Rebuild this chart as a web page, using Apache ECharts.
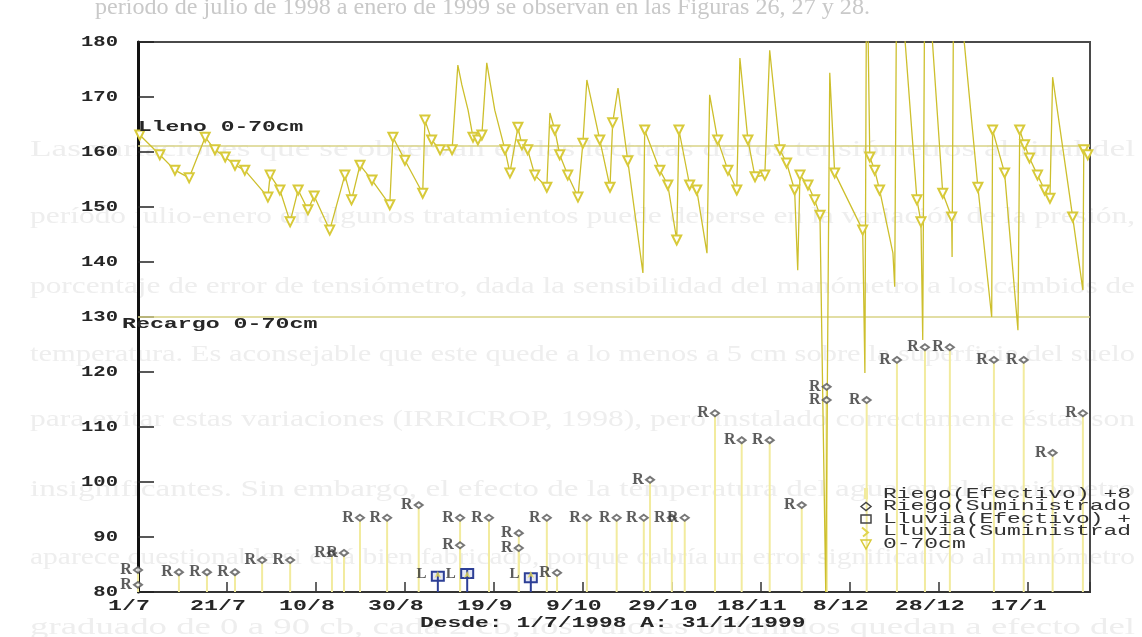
<!DOCTYPE html>
<html>
<head>
<meta charset="utf-8">
<script src="https://cdn.jsdelivr.net/npm/echarts@6/dist/echarts.min.js"></script>
<style>
  html, body { margin: 0; padding: 0; background: #ffffff; }
  #chart { width: 1142px; height: 637px; }
</style>
</head>
<body>
<div id="chart"></div>
<script>
// Time axis: days counted from 1 July 1998 (day 214 = 31 January 1999)
const xTickDays = [0, 20, 40, 60, 80, 100, 120, 140, 160, 180, 200];
const xTickLabels = ['1/7', '21/7', '10/8', '30/8', '19/9', '9/10', '29/10', '18/11', '8/12', '28/12', '17/1'];
const yTicks = [80, 90, 100, 110, 120, 130, 140, 150, 160, 170, 180];

// Tensiometer reading, 0-70 cm layer
const tensionDays = [
  0.4, 4.9, 8.3, 11.5, 15.1, 17.3, 19.6, 21.8, 24.0, 29.2,
  29.7, 31.9, 34.2, 36.0, 38.2, 39.6, 43.1, 46.5, 48.0, 49.9,
  52.6, 56.6, 57.3, 60.0, 64.0, 64.5, 66.0, 67.9, 70.6, 71.9,
  72.8, 74.2, 75.3, 76.4, 77.3, 78.4, 80.2, 82.5, 83.6, 85.4,
  86.3, 87.6, 89.2, 91.9, 92.6, 93.7, 94.8, 96.6, 98.9, 100.0,
  100.9, 103.8, 106.1, 106.7, 107.9, 110.1, 113.5, 113.9, 117.3, 119.1,
  121.1, 121.6, 124.0, 125.6, 127.9, 128.5, 130.3, 132.6, 134.6, 135.3,
  137.1, 138.7, 140.9, 142.0, 144.3, 145.8, 147.6, 148.3, 148.8, 150.6,
  152.1, 153.3, 154.6, 155.5, 156.6, 162.9, 163.4, 163.8, 164.5, 165.6,
  166.7, 169.7, 170.1, 170.6, 175.1, 176.0, 176.4, 176.9, 180.9, 182.9,
  183.0, 183.4, 188.8, 191.9, 192.1, 194.8, 197.8, 198.2, 199.3, 200.4,
  202.2, 203.8, 205.0, 205.6, 210.1, 212.4, 212.6, 213.5
];
const tensionVals = [
  163.1, 159.5, 156.7, 155.3, 162.7, 160.4, 159.1, 157.6, 156.7, 151.8,
  155.8, 153.1, 147.3, 153.1, 149.5, 152.0, 145.8, 155.8, 151.3, 157.6,
  154.9, 150.4, 162.7, 158.5, 152.5, 165.8, 162.2, 160.4, 160.4, 175.8,
  172.2, 167.6, 162.7, 162.2, 163.1, 176.2, 167.6, 160.4, 156.2, 164.5,
  161.3, 160.4, 155.8, 153.6, 167.1, 164.0, 159.5, 155.8, 151.8, 161.6,
  173.1, 162.2, 153.6, 165.3, 171.6, 158.4, 138.0, 164.0, 156.7, 154.0,
  144.0, 164.0, 154.0, 153.1, 141.6, 170.4, 162.2, 156.7, 153.1, 177.1,
  162.2, 155.5, 155.8, 178.5, 160.4, 158.0, 153.1, 138.5, 155.8, 154.0,
  151.3, 148.5, 80.0, 174.4, 156.2, 145.8, 119.8, 200.0, 159.1, 156.7,
  153.1, 141.6, 135.5, 200.0, 151.3, 147.3, 125.8, 200.0, 152.5, 148.2,
  140.9, 200.0, 153.6, 130.0, 164.0, 156.2, 127.6, 164.0, 161.3, 158.9,
  155.8, 153.1, 151.6, 173.6, 148.2, 134.9, 160.4, 159.5
];

// Irrigation events (supplied depth plotted on the same scale)
const riegoDays = [
  0, 0, 9.2, 15.5, 21.8, 27.9, 34.2, 43.6, 46.3, 49.9,
  56.0, 63.1, 72.4, 72.4, 78.9, 85.6, 85.6, 91.9, 94.2, 100.9,
  107.6, 113.7, 115.1, 120.0, 122.9, 129.7, 135.7, 142.0, 149.2, 154.8,
  154.8, 163.8, 170.6, 176.9, 182.5, 192.4, 199.1, 205.6, 212.4
];
const riegoVals = [
  84.0, 81.3, 83.6, 83.6, 83.6, 85.8, 85.8, 87.1, 87.1, 93.5,
  93.5, 95.8, 93.5, 88.5, 93.5, 90.7, 88.0, 93.5, 83.5, 93.5,
  93.5, 93.5, 100.4, 93.5, 93.5, 112.5, 107.6, 107.6, 95.8, 117.3,
  114.9, 114.9, 122.2, 124.5, 124.5, 122.2, 122.2, 105.3, 112.5
];

// Rain events
const lluviaDays = [67.4, 74.0, 88.3];
const lluviaSumVals = [83.8, 83.8, 83.8];
const lluviaEfVals = [82.6, 83.1, 82.3];

// Reference levels
const llenoLevel = 161.1;
const recargoLevel = 130.0;

const legendLabels = ['Riego(Efectivo) +8', 'Riego(Suministrado', 'Lluvia(Efectivo) +', 'Lluvia(Suministrad', '0-70cm'];
const rangeLabel = 'Desde: 1/7/1998 A: 31/1/1999';

// Paragraph of the page the figure sits on
const pageLines = [
  'período de julio de 1998 a enero de 1999 se observan en las Figuras 26, 27 y 28.',
  'Las variaciones que se observan en las lecturas de los tensiómetros al final del',
  'período julio-enero en algunos tratamientos puede deberse en la variación de la presión,',
  'porcentaje de error de tensiómetro, dada la sensibilidad del manómetro a los cambios de',
  'temperatura. Es aconsejable que este quede a lo menos a 5 cm sobre la superficie del suelo',
  'para evitar estas variaciones (IRRICROP, 1998), pero instalado correctamente éstas son',
  'insignificantes. Sin embargo, el efecto de la temperatura del agua en el tensiómetro',
  'aparece cuestionable si está bien fabricado, porque cabría un error significativo al manómetro',
  'graduado de 0 a 90 cb, cada 2 cb, los valores obtenidos quedan a efecto del'
];
const pageLineY = [8, 150, 217, 287, 355, 420, 490, 558, 628];

const YELLOW = '#cdbf2c';
const MARK = '#d8ca3a';
const PALE = '#f2eb9e';
const LEVEL = '#d9d386';
const BLUE = '#2d3f96';
const INK = '#262626';

const chart = echarts.init(document.getElementById('chart'), null, { renderer: 'canvas' });

const tensionData = tensionDays.map((d, i) => {
  const v = tensionVals[i];
  const marked = v >= 143 && v <= 166;
  return marked ? [d, v] : { value: [d, v], symbol: 'none' };
});

const option = {
  animation: false,
  backgroundColor: '#ffffff',
  grid: {
    left: 138, right: 52, top: 42, bottom: 45,
    show: true, borderColor: '#4a4a4a', borderWidth: 2, backgroundColor: 'transparent'
  },
  xAxis: {
    type: 'value', min: 0, max: 214, interval: 20,
    axisLine: { show: true, lineStyle: { color: '#333', width: 2 } },
    axisTick: { show: true, inside: true, length: 10, lineStyle: { color: '#333', width: 1.5 } },
    axisLabel: { show: false },
    splitLine: { show: false }
  },
  yAxis: {
    type: 'value', min: 80, max: 180, interval: 10,
    axisLine: { show: true, onZero: false, lineStyle: { color: '#111', width: 3 } },
    axisTick: { show: true, inside: true, length: 16, lineStyle: { color: '#222', width: 1.5 } },
    axisLabel: { show: false },
    splitLine: { show: false }
  },
  series: [
    {
      name: 'Riego(Efectivo)',
      type: 'custom',
      z: 1,
      silent: true,
      encode: { x: 0, y: 1 },
      data: riegoDays.map((d, i) => [d, riegoVals[i]]),
      renderItem: (params, api) => {
        const d = api.value(0), v = api.value(1);
        const a = api.coord([d, 80]), b = api.coord([d, v]);
        return {
          type: 'line',
          shape: { x1: a[0], y1: a[1], x2: b[0], y2: b[1] + 3 },
          style: { stroke: PALE, lineWidth: 2 }
        };
      }
    },
    {
      name: 'Lleno',
      type: 'line',
      z: 2,
      silent: true,
      symbol: 'none',
      lineStyle: { color: LEVEL, width: 1.5 },
      data: [[0, llenoLevel], [214, llenoLevel]]
    },
    {
      name: 'Recargo',
      type: 'line',
      z: 2,
      silent: true,
      symbol: 'none',
      lineStyle: { color: LEVEL, width: 1.5 },
      data: [[0, recargoLevel], [214, recargoLevel]]
    },
    {
      name: '0-70cm',
      type: 'line',
      z: 3,
      silent: true,
      clip: true,
      showSymbol: true,
      showAllSymbol: true,
      symbol: 'emptyTriangle',
      symbolRotate: 180,
      symbolSize: 9,
      itemStyle: { color: MARK, borderWidth: 1.5 },
      lineStyle: { color: YELLOW, width: 1.3 },
      data: tensionData
    },
    {
      name: 'Riego(Suministrado)',
      type: 'scatter',
      z: 4,
      silent: true,
      symbol: 'emptyDiamond',
      symbolSize: [8, 6],
      itemStyle: { color: '#555', borderWidth: 1.2 },
      label: {
        show: true, formatter: 'R', position: 'left', distance: 1,
        fontFamily: 'Liberation Serif', fontWeight: 'bold', fontSize: 16, color: '#333'
      },
      data: riegoDays.map((d, i) => [d, riegoVals[i]])
    },
    {
      name: 'Lluvia(Efectivo)',
      type: 'custom',
      z: 4,
      silent: true,
      encode: { x: 0, y: 1 },
      data: lluviaDays.map((d, i) => [d, lluviaEfVals[i]]),
      renderItem: (params, api) => {
        const d = api.value(0), v = api.value(1);
        const a = api.coord([d, 80]), b = api.coord([d, v]);
        return {
          type: 'group',
          children: [
            { type: 'rect', shape: { x: b[0] - 6, y: b[1] - 6, width: 12, height: 9 },
              style: { fill: 'rgba(80,100,190,0.15)', stroke: BLUE, lineWidth: 2 } },
            { type: 'line', shape: { x1: b[0], y1: b[1] - 6, x2: a[0], y2: a[1] },
              style: { stroke: BLUE, lineWidth: 2 } }
          ]
        };
      }
    },
    {
      name: 'Lluvia(Suministrad)',
      type: 'scatter',
      z: 4,
      silent: true,
      symbol: 'arrow',
      symbolSize: [5, 7],
      itemStyle: { color: '#e3d856' },
      label: {
        show: true, formatter: 'L', position: 'left', distance: 8,
        fontFamily: 'Liberation Serif', fontWeight: 'bold', fontSize: 15, color: '#333'
      },
      data: lluviaDays.map((d, i) => [d, lluviaSumVals[i]])
    }
  ]
};

chart.setOption(option);

// Text drawn with the wide bitmap-style look of the plotter
const px = (x, y) => chart.convertToPixel({ gridIndex: 0 }, [x, y]);
const MONO_B = 'bold 15px "Liberation Mono"';
const MONO = '14px "Liberation Mono"';
const graphics = [];

// faint page paragraph behind the figure
const measure = document.createElement('canvas').getContext('2d');
pageLines.forEach((t, i) => {
  const font = '23px "Liberation Serif"';
  measure.font = font;
  const w = measure.measureText(t).width;
  const first = i === 0;
  const left = first ? 95 : 30;
  const target = first ? 775 : 1105;
  graphics.push({
    type: 'text', x: left, y: pageLineY[i], scaleX: target / w, z: -100, silent: true,
    style: { text: t, font: font, fill: first ? '#c9c9c9' : '#eeeeee', align: 'left', verticalAlign: 'middle' }
  });
});

// y tick labels
yTicks.forEach(v => {
  const p = px(0, v);
  graphics.push({
    type: 'text', x: p[0] - 20, y: p[1], scaleX: 1.37, z: 10, silent: true,
    style: { text: String(v), font: MONO_B, fill: INK, align: 'right', verticalAlign: 'middle' }
  });
});

// x tick labels
xTickDays.forEach((d, i) => {
  const p = px(d, 80);
  graphics.push({
    type: 'text', x: p[0] - 9, y: p[1] + 14, scaleX: 1.55, z: 10, silent: true,
    style: { text: xTickLabels[i], font: MONO_B, fill: INK, align: 'center', verticalAlign: 'middle' }
  });
});

// date range caption
graphics.push({
  type: 'text', x: 420, y: 623, scaleX: 1.53, z: 10, silent: true,
  style: { text: rangeLabel, font: MONO_B, fill: INK, align: 'left', verticalAlign: 'middle' }
});

// level labels
const pl = px(0, llenoLevel);
graphics.push({
  type: 'text', x: pl[0], y: pl[1] - 19, scaleX: 1.53, z: 10, silent: true,
  style: { text: 'Lleno 0-70cm', font: MONO_B, fill: INK, align: 'left', verticalAlign: 'middle' }
});
const pr = px(0, recargoLevel);
graphics.push({
  type: 'text', x: pr[0] - 16, y: pr[1] + 7, scaleX: 1.55, z: 10, silent: true,
  style: { text: 'Recargo 0-70cm', font: MONO_B, fill: INK, align: 'left', verticalAlign: 'middle' }
});

// legend block
const legendY = [494, 506.5, 519, 531.5, 544];
const symX = 866;
legendLabels.forEach((t, i) => {
  graphics.push({
    type: 'text', x: 883, y: legendY[i], scaleX: 1.64, z: 10, silent: true,
    style: { text: t, font: MONO, fill: '#333', align: 'left', verticalAlign: 'middle' }
  });
});
graphics.push(
  { type: 'rect', z: 10, silent: true, shape: { x: symX - 2, y: legendY[0] - 6, width: 4, height: 11 },
    style: { fill: PALE } },
  { type: 'polygon', z: 10, silent: true,
    shape: { points: [[symX - 5, legendY[1]], [symX, legendY[1] - 4], [symX + 5, legendY[1]], [symX, legendY[1] + 4]] },
    style: { fill: 'none', stroke: '#444', lineWidth: 1.5 } },
  { type: 'rect', z: 10, silent: true, shape: { x: symX - 5, y: legendY[2] - 4, width: 10, height: 8 },
    style: { fill: 'none', stroke: '#444', lineWidth: 1.5 } },
  { type: 'polyline', z: 10, silent: true,
    shape: { points: [[symX - 4, legendY[3] - 4], [symX + 2, legendY[3] + 1], [symX - 3, legendY[3] + 5]] },
    style: { stroke: '#e0d44e', lineWidth: 2, fill: 'none' } },
  { type: 'polygon', z: 10, silent: true,
    shape: { points: [[symX - 5, legendY[4] - 4], [symX + 5, legendY[4] - 4], [symX, legendY[4] + 5]] },
    style: { fill: 'none', stroke: MARK, lineWidth: 1.5 } }
);

chart.setOption({ graphic: { elements: graphics } });
</script>
</body>
</html>
